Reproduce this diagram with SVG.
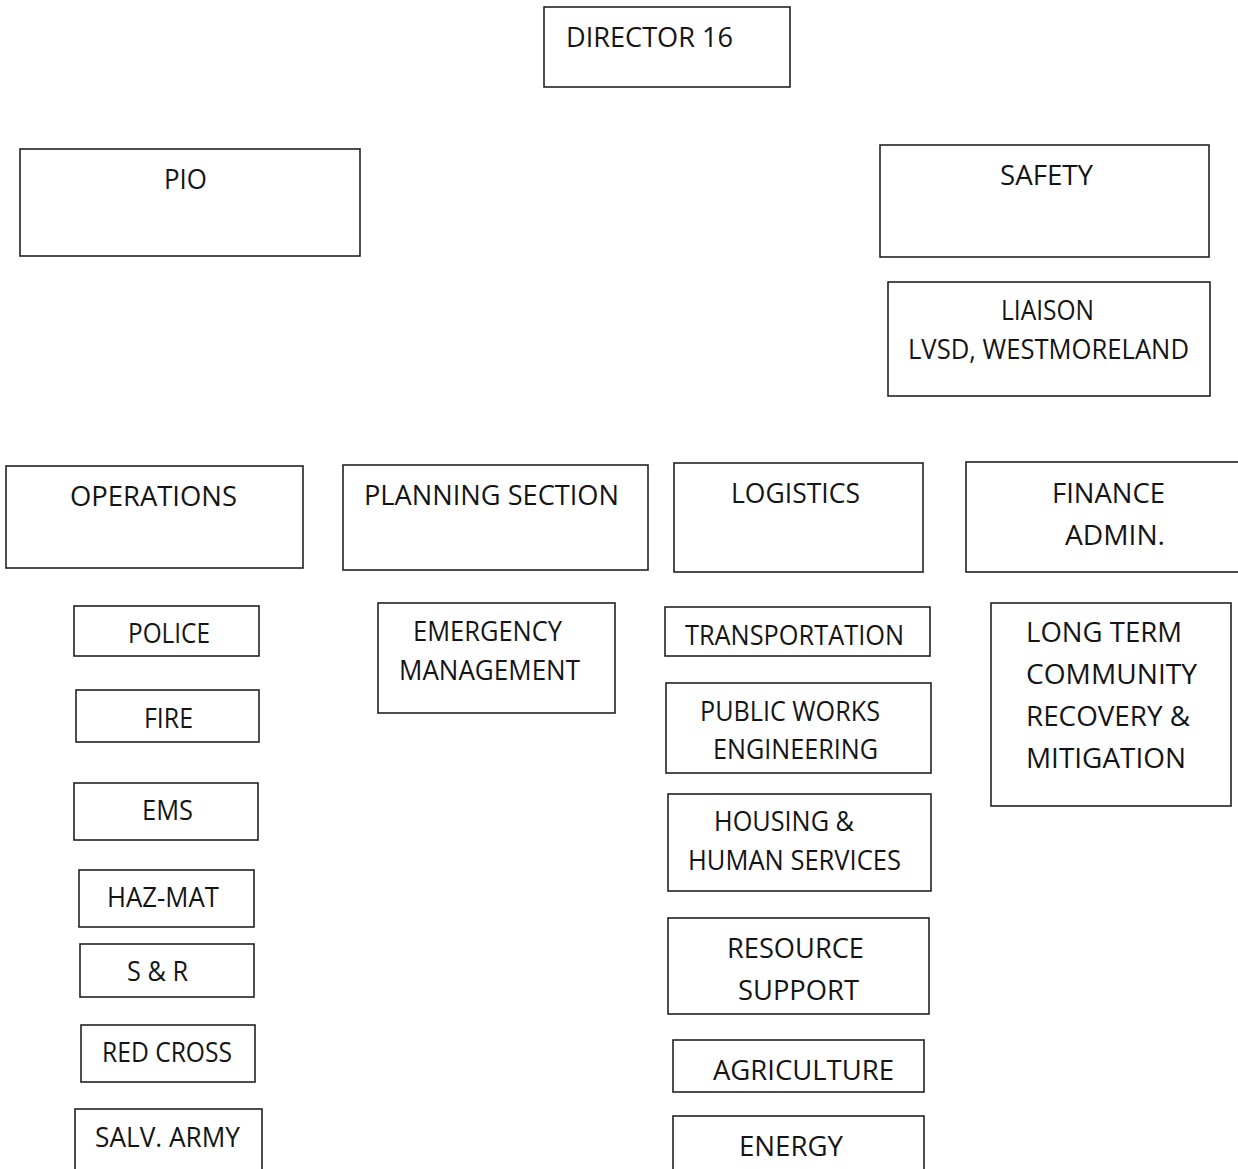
<svg xmlns="http://www.w3.org/2000/svg" width="1238" height="1169" viewBox="0 0 1238 1169">
<style>
rect{fill:#fff;stroke:#222;stroke-width:1.6}
text{font-family:"Open Sans","Noto Sans","Liberation Sans",sans-serif;font-size:27px;fill:#151515}
</style>
<rect x="0" y="0" width="1238" height="1169" style="stroke:none"/>
<g id="connectors"></g>
<g id="director"><rect x="544" y="7" width="246" height="80"/><text x="566" y="47" textLength="167" lengthAdjust="spacingAndGlyphs">DIRECTOR 16</text></g>
<g id="pio"><rect x="20" y="149" width="340" height="107"/><text x="164" y="189" textLength="43" lengthAdjust="spacingAndGlyphs">PIO</text></g>
<g id="safety"><rect x="880" y="145" width="329" height="112"/><text x="1000" y="185" textLength="93" lengthAdjust="spacingAndGlyphs">SAFETY</text></g>
<g id="liaison"><rect x="888" y="282" width="322" height="114"/><text x="1001" y="320" textLength="93" lengthAdjust="spacingAndGlyphs">LIAISON</text><text x="908" y="359" textLength="281" lengthAdjust="spacingAndGlyphs">LVSD, WESTMORELAND</text></g>
<g id="operations"><rect x="6" y="466" width="297" height="102"/><text x="70" y="506" textLength="167" lengthAdjust="spacingAndGlyphs">OPERATIONS</text></g>
<g id="planning"><rect x="343" y="465" width="305" height="105"/><text x="364" y="505" textLength="255" lengthAdjust="spacingAndGlyphs">PLANNING SECTION</text></g>
<g id="logistics"><rect x="674" y="463" width="249" height="109"/><text x="731" y="503" textLength="129" lengthAdjust="spacingAndGlyphs">LOGISTICS</text></g>
<g id="finance"><rect x="966" y="462" width="280" height="110"/><text x="1052" y="503" textLength="113" lengthAdjust="spacingAndGlyphs">FINANCE</text><text x="1065" y="545" textLength="100" lengthAdjust="spacingAndGlyphs">ADMIN.</text></g>
<g id="police"><rect x="74" y="606" width="185" height="50"/><text x="128" y="643" textLength="82" lengthAdjust="spacingAndGlyphs">POLICE</text></g>
<g id="fire"><rect x="76" y="690" width="183" height="52"/><text x="144" y="728" textLength="49" lengthAdjust="spacingAndGlyphs">FIRE</text></g>
<g id="ems"><rect x="74" y="783" width="184" height="57"/><text x="142" y="820" textLength="51" lengthAdjust="spacingAndGlyphs">EMS</text></g>
<g id="hazmat"><rect x="79" y="870" width="175" height="57"/><text x="107" y="907" textLength="112" lengthAdjust="spacingAndGlyphs">HAZ-MAT</text></g>
<g id="snr"><rect x="80" y="944" width="174" height="53"/><text x="127" y="981" textLength="61" lengthAdjust="spacingAndGlyphs">S &amp; R</text></g>
<g id="redcross"><rect x="81" y="1025" width="174" height="57"/><text x="102" y="1062" textLength="130" lengthAdjust="spacingAndGlyphs">RED CROSS</text></g>
<g id="salvarmy"><rect x="75" y="1109" width="187" height="70"/><text x="95" y="1147" textLength="145" lengthAdjust="spacingAndGlyphs">SALV. ARMY</text></g>
<g id="emergency"><rect x="378" y="603" width="237" height="110"/><text x="413" y="641" textLength="149" lengthAdjust="spacingAndGlyphs">EMERGENCY</text><text x="399" y="680" textLength="181" lengthAdjust="spacingAndGlyphs">MANAGEMENT</text></g>
<g id="transportation"><rect x="665" y="607" width="265" height="49"/><text x="685" y="645" textLength="219" lengthAdjust="spacingAndGlyphs">TRANSPORTATION</text></g>
<g id="publicworks"><rect x="666" y="683" width="265" height="90"/><text x="700" y="721" textLength="180" lengthAdjust="spacingAndGlyphs">PUBLIC WORKS</text><text x="713" y="759" textLength="165" lengthAdjust="spacingAndGlyphs">ENGINEERING</text></g>
<g id="housing"><rect x="668" y="794" width="263" height="97"/><text x="714" y="831" textLength="140" lengthAdjust="spacingAndGlyphs">HOUSING &amp;</text><text x="688" y="870" textLength="213" lengthAdjust="spacingAndGlyphs">HUMAN SERVICES</text></g>
<g id="resource"><rect x="668" y="918" width="261" height="96"/><text x="727" y="958" textLength="137" lengthAdjust="spacingAndGlyphs">RESOURCE</text><text x="738" y="1000" textLength="121" lengthAdjust="spacingAndGlyphs">SUPPORT</text></g>
<g id="agriculture"><rect x="673" y="1040" width="251" height="52"/><text x="713" y="1080" textLength="181" lengthAdjust="spacingAndGlyphs">AGRICULTURE</text></g>
<g id="energy"><rect x="673" y="1116" width="251" height="70"/><text x="739" y="1156" textLength="104" lengthAdjust="spacingAndGlyphs">ENERGY</text></g>
<g id="longterm"><rect x="991" y="603" width="240" height="203"/><text x="1026" y="642" textLength="156" lengthAdjust="spacingAndGlyphs">LONG TERM</text><text x="1026" y="684" textLength="171" lengthAdjust="spacingAndGlyphs">COMMUNITY</text><text x="1026" y="726" textLength="164" lengthAdjust="spacingAndGlyphs">RECOVERY &amp;</text><text x="1026" y="768" textLength="160" lengthAdjust="spacingAndGlyphs">MITIGATION</text></g>
</svg>
